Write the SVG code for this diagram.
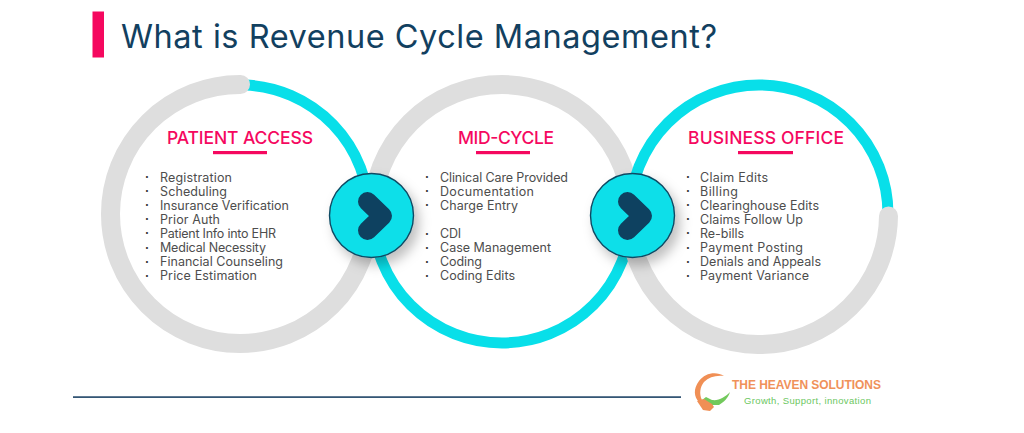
<svg xmlns="http://www.w3.org/2000/svg" width="1024" height="433" viewBox="0 0 1024 433">
<style>
text{font-family:"Inter","Open Sans","Liberation Sans",sans-serif}
.title{font-size:32.5px;font-weight:400;fill:#12405f}
.head{font-size:17.5px;font-weight:500;fill:#f5085f}
.item{font-size:12.5px;fill:#4d4d4d}
.bul{font-size:11px;font-weight:800;fill:#333}
.rule{fill:#f5085f}
.gray{fill:none;stroke:#dedede;stroke-width:19;stroke-linecap:round}
.cyan{fill:none;stroke:#08dfe9;stroke-width:11}
.disc{fill:#08dfe9;stroke:#0e4a63;stroke-width:1.4;filter:url(#sh)}
.chev{fill:none;stroke:#0e4160;stroke-width:19;stroke-linecap:round;stroke-linejoin:round}
</style>
<defs>
<filter id="sh" x="-30%" y="-30%" width="170%" height="170%"><feDropShadow dx="5" dy="7" stdDeviation="6" flood-color="#000" flood-opacity=".25"/></filter>
</defs>
<rect width="1024" height="433" fill="#fff"/>
<g id="header">
<rect x="92.5" y="11.5" width="11.5" height="46" fill="#f5085f"/>
<text class="title" x="121" y="48" textLength="596">What is Revenue Cycle Management?</text>
</g>
<g id="connectors">
<path class="cyan" d="M245 85A129 129 0 0 1 369 214"/>
<path class="gray" d="M240.5 84.5A129.5 129.5 0 1 0 369.5 214"/>
<path class="gray" d="M372.5 214A129.5 129.5 0 0 1 631.5 214"/>
<path class="cyan" d="M373 214A129 129 0 0 0 631 214"/>
<path class="cyan" d="M630 214A129 129 0 0 1 888 214"/>
<path class="gray" d="M888.5 216A129.5 129.5 0 0 1 629.5 214"/>
</g>
<g id="patient-access">
<text class="head" x="167" y="144" textLength="146">PATIENT ACCESS</text>
<rect class="rule" x="213" y="151" width="54" height="3.2"/>
<g class="item">
<text x="160" y="181.5" textLength="72">Registration</text>
<text x="160" y="195.5" textLength="67">Scheduling</text>
<text x="160" y="209.5" textLength="129">Insurance Verification</text>
<text x="160" y="223.5" textLength="60">Prior Auth</text>
<text x="160" y="237.5" textLength="116">Patient Info into EHR</text>
<text x="160" y="252" textLength="106">Medical Necessity</text>
<text x="160" y="266" textLength="123">Financial Counseling</text>
<text x="160" y="280" textLength="97">Price Estimation</text>
</g>
<g class="bul">
<text x="145" y="181">·</text><text x="145" y="195">·</text><text x="145" y="209">·</text><text x="145" y="223">·</text><text x="145" y="237">·</text><text x="145" y="251.5">·</text><text x="145" y="265.5">·</text><text x="145" y="279.5">·</text>
</g>
</g>
<g id="mid-cycle">
<text class="head" x="458" y="144" textLength="96">MID-CYCLE</text>
<rect class="rule" x="476" y="151" width="54" height="3.2"/>
<g class="item">
<text x="440" y="181.5" textLength="128">Clinical Care Provided</text>
<text x="440" y="195.5" textLength="94">Documentation</text>
<text x="440" y="209.5" textLength="78">Charge Entry</text>
<text x="440" y="238" textLength="21">CDI</text>
<text x="440" y="252" textLength="111">Case Management</text>
<text x="440" y="266" textLength="42">Coding</text>
<text x="440" y="280" textLength="75">Coding Edits</text>
</g>
<g class="bul">
<text x="425" y="181">·</text><text x="425" y="195">·</text><text x="425" y="209">·</text><text x="425" y="237.5">·</text><text x="425" y="251.5">·</text><text x="425" y="265.5">·</text><text x="425" y="279.5">·</text>
</g>
</g>
<g id="business-office">
<text class="head" x="688" y="144" textLength="156">BUSINESS OFFICE</text>
<rect class="rule" x="738" y="151" width="55" height="3.2"/>
<g class="item">
<text x="700" y="181.5" textLength="68">Claim Edits</text>
<text x="700" y="195.5" textLength="38">Billing</text>
<text x="700" y="209.5" textLength="119">Clearinghouse Edits</text>
<text x="700" y="223.5" textLength="103">Claims Follow Up</text>
<text x="700" y="237.5" textLength="44">Re-bills</text>
<text x="700" y="252" textLength="103">Payment Posting</text>
<text x="700" y="266" textLength="121">Denials and Appeals</text>
<text x="700" y="280" textLength="109">Payment Variance</text>
</g>
<g class="bul">
<text x="686" y="181">·</text><text x="686" y="195">·</text><text x="686" y="209">·</text><text x="686" y="223">·</text><text x="686" y="237">·</text><text x="686" y="251.5">·</text><text x="686" y="265.5">·</text><text x="686" y="279.5">·</text>
</g>
</g>
<g id="arrow-1">
<circle class="disc" cx="371.5" cy="215.5" r="42"/>
<path class="chev" d="M367.5 201.5L382.5 216L367.5 230.5"/>
</g>
<g id="arrow-2">
<circle class="disc" cx="632.5" cy="215.5" r="42"/>
<path class="chev" d="M627.5 201.5L642.5 216L627.5 230.5"/>
</g>
<g id="footer">
<rect x="73" y="396.3" width="608" height="1.6" fill="#1f4466"/>
</g>
<g id="logo">
<path d="M724 376C716 371 705 373 699 381C693 389 694 397 699 402L702 400C699 394 700 387 704 382C709 377 716 375 724 376Z" fill="#f08f55"/>
<path d="M730 392C728 398 724 402 719 405L708 405L702 400L706 397L712 400C719 401 725 397 730 392Z" fill="#72c95c"/>
<path d="M697 401L704 399L712 404L714 407L710 411L703 410Z" fill="#f08f55"/>
<text x="732" y="389" textLength="149" style="font-family:'Liberation Sans',sans-serif;font-size:12px;font-weight:700;fill:#f0915a">THE HEAVEN SOLUTIONS</text>
<text x="744" y="404" textLength="127" style="font-family:'Liberation Sans',sans-serif;font-size:9.5px;fill:#6cc75f">Growth, Support, innovation</text>
</g>
</svg>
